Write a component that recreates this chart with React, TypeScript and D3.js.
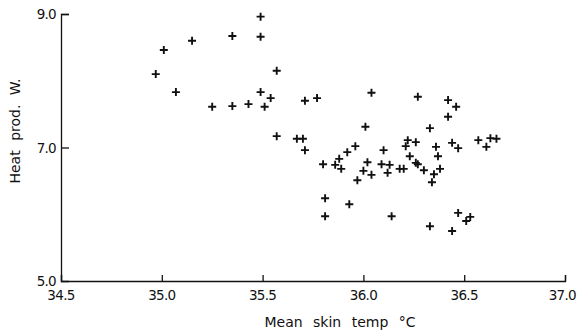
import * as d3 from "d3";
import { useEffect, useRef } from "react";

// mean skin temperature (°C) and heat production (W)
const skinTemp = [
  34.97, 35.01, 35.07, 35.15, 35.25, 35.35, 35.35, 35.43, 35.49, 35.49,
  35.49, 35.51, 35.54, 35.57, 35.57, 35.67, 35.7, 35.71, 35.71, 35.77,
  35.8, 35.81, 35.81, 35.86, 35.88, 35.89, 35.92, 35.93, 35.96, 35.97,
  36.0, 36.01, 36.02, 36.04, 36.04, 36.09, 36.1, 36.12, 36.13, 36.14,
  36.18, 36.2, 36.21, 36.22, 36.23, 36.26, 36.26, 36.27, 36.27, 36.3,
  36.33, 36.33, 36.34, 36.35, 36.36, 36.37, 36.38, 36.42, 36.42, 36.44,
  36.44, 36.46, 36.47, 36.47, 36.51, 36.53, 36.57, 36.61, 36.63, 36.66,
];
const heatProd = [
  8.1, 8.46, 7.83, 8.6, 7.61, 7.62, 8.67, 7.65, 8.96, 8.66,
  7.83, 7.61, 7.74, 8.15, 7.17, 7.13, 7.13, 6.96, 7.7, 7.74,
  6.75, 6.24, 5.97, 6.74, 6.83, 6.68, 6.93, 6.15, 7.02, 6.51,
  6.65, 7.31, 6.78, 7.82, 6.59, 6.75, 6.96, 6.62, 6.74, 5.97,
  6.68, 6.68, 7.02, 7.11, 6.87, 6.77, 7.08, 7.76, 6.75, 6.66,
  7.29, 5.82, 6.48, 6.6, 7.01, 6.87, 6.68, 7.71, 7.46, 7.07,
  5.75, 7.61, 6.02, 6.99, 5.9, 5.96, 7.11, 7.01, 7.14, 7.13,
];
const xTicks = [34.5, 35.0, 35.5, 36.0, 36.5, 37.0];
const yTicks = [5.0, 7.0, 9.0];

const W = 577;
const H = 331;

const App = () => {
  const svgRef = useRef<SVGSVGElement | null>(null);

  useEffect(() => {
    document.body.style.margin = "0";
    const svg = d3.select(svgRef.current);
    svg.selectAll("*").remove();

    const font = "'DejaVu Sans', sans-serif";
    const ink = "#111";

    const x = d3.scaleLinear().domain([34.5, 37.0]).range([61, 565]);
    const y = d3.scaleLinear().domain([5.0, 9.0]).range([281, 14]);

    // x axis, ticks pointing up into the plot
    const gx = svg
      .append("g")
      .attr("transform", `translate(0,${y(5.0)})`)
      .call(
        d3.axisTop(x).tickValues(xTicks).tickSize(6).tickFormat(() => "")
      );
    gx.select(".domain").attr("stroke", ink).attr("stroke-width", 1.3);
    gx.selectAll(".tick line").attr("stroke", ink).attr("stroke-width", 1.3);

    // last label sits against the right edge, as in the original
    svg
      .append("g")
      .selectAll("text")
      .data(xTicks)
      .join("text")
      .attr("x", (d) => (d === 37.0 ? W - 1 : x(d)))
      .attr("y", y(5.0) + 19)
      .attr("text-anchor", (d) => (d === 37.0 ? "end" : "middle"))
      .attr("font-family", font)
      .attr("font-size", 13.5)
      .attr("letter-spacing", -0.7)
      .attr("fill", ink)
      .text((d) => d.toFixed(1));

    // y axis, ticks pointing right into the plot
    const gy = svg
      .append("g")
      .attr("transform", `translate(${x(34.5)},0)`)
      .call(
        d3.axisRight(y).tickValues(yTicks).tickSize(8).tickFormat(() => "")
      );
    gy.select(".domain").attr("stroke", ink).attr("stroke-width", 1.3);
    gy.selectAll(".tick line")
      .attr("stroke", ink)
      .attr("stroke-width", 1.3)
      .attr("opacity", (d) => (d === 5.0 ? 0 : 1));

    svg
      .append("g")
      .selectAll("text")
      .data(yTicks)
      .join("text")
      .attr("x", x(34.5) - 5)
      .attr("y", (d) => y(d) + 5)
      .attr("text-anchor", "end")
      .attr("font-family", font)
      .attr("font-size", 13.5)
      .attr("letter-spacing", -0.7)
      .attr("fill", ink)
      .text((d) => d.toFixed(1));

    // axis titles
    svg
      .append("text")
      .attr("x", 340)
      .attr("y", 327)
      .attr("text-anchor", "middle")
      .attr("font-family", font)
      .attr("font-size", 14)
      .attr("word-spacing", 6)
      .attr("fill", ink)
      .text("Mean skin temp °C");

    svg
      .append("text")
      .attr("transform", "translate(20,131) rotate(-90)")
      .attr("text-anchor", "middle")
      .attr("font-family", font)
      .attr("font-size", 14)
      .attr("word-spacing", 5)
      .attr("fill", ink)
      .text("Heat prod. W.");

    // plus markers
    const pts = skinTemp.map((t, i) => ({ t, h: heatProd[i] }));
    const r = 4;
    svg
      .append("g")
      .selectAll("path")
      .data(pts)
      .join("path")
      .attr("d", (d) => {
        const cx = x(d.t);
        const cy = y(d.h);
        return `M${cx - r},${cy}H${cx + r}M${cx},${cy - r}V${cy + r}`;
      })
      .attr("stroke", ink)
      .attr("stroke-width", 1.9)
      .attr("fill", "none");
  }, []);

  return <svg ref={svgRef} width={W} height={H} style={{ display: "block" }}></svg>;
};

export default App;
